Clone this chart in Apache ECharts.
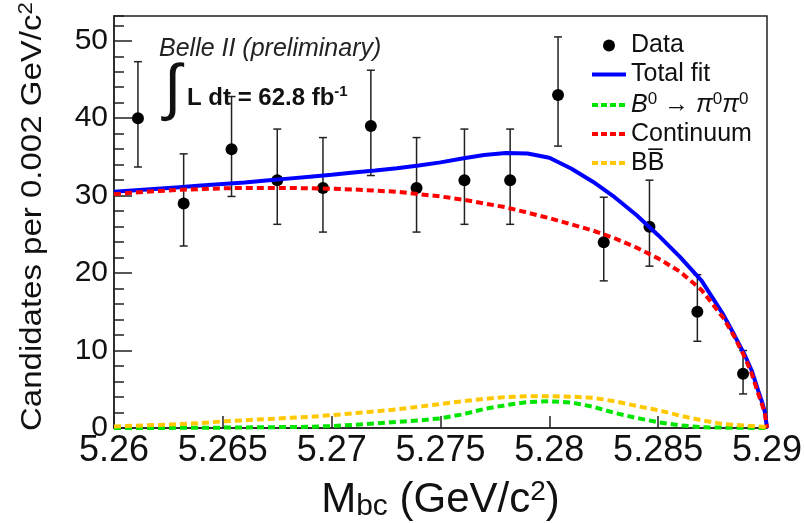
<!DOCTYPE html>
<html><head><meta charset="utf-8">
<script src="https://cdn.jsdelivr.net/npm/echarts@6/dist/echarts.min.js"></script>
<style>html,body{margin:0;padding:0;background:#fff}#c{width:804px;height:523px}</style>
</head><body><div id="c"></div>
<script>
// ---- Data ----
const binCenters = [5.2611, 5.2632, 5.2654, 5.2675, 5.2696, 5.2718, 5.2739, 5.2761, 5.2782, 5.2804, 5.2825, 5.2846, 5.2868, 5.2889];
const counts     = [40, 29, 36, 32, 31, 39, 31, 32, 32, 43, 24, 26, 15, 7];
const errLow     = [33.7, 23.5, 29.9, 26.3, 25.3, 32.6, 25.3, 26.3, 26.3, 36.4, 19.0, 20.9, 11.2, 4.4];
const errHigh    = [47.3, 35.4, 42.8, 38.6, 37.5, 46.2, 37.5, 38.6, 38.6, 50.5, 29.8, 32.0, 19.8, 10.0];

const curveX = [5.260, 5.261, 5.262, 5.263, 5.264, 5.265, 5.266, 5.267, 5.268, 5.269,
                5.270, 5.271, 5.272, 5.273, 5.274, 5.275, 5.276, 5.277, 5.278, 5.279,
                5.280, 5.281, 5.282, 5.283, 5.284, 5.285, 5.286, 5.287, 5.288,
                5.2885, 5.289, 5.2893, 5.2896, 5.2898, 5.2899, 5.290];
const totalFit = [30.5, 30.7, 30.9, 31.1, 31.3, 31.5, 31.7, 31.95, 32.2, 32.45,
                  32.7, 33.0, 33.25, 33.55, 33.9, 34.3, 34.8, 35.25, 35.5, 35.45,
                  34.9, 33.5, 31.8, 29.8, 27.5, 24.9, 22.1, 19.0, 14.6,
                  12.0, 9.3, 7.4, 4.8, 3.1, 2.1, 0];
const continuum = [30.2, 30.4, 30.6, 30.75, 30.85, 30.95, 31.0, 31.0, 31.0, 30.95,
                   30.9, 30.8, 30.65, 30.5, 30.2, 29.9, 29.5, 29.0, 28.5, 27.8,
                   27.1, 26.3, 25.5, 24.5, 23.3, 21.9, 20.2, 17.8, 14.2,
                   11.8, 9.0, 7.0, 4.4, 2.8, 1.9, 0];
const signal = [0, 0, 0, 0.02, 0.03, 0.05, 0.07, 0.1, 0.13, 0.15,
                0.25, 0.4, 0.6, 0.8, 0.97, 1.25, 1.75, 2.45, 2.95, 3.35,
                3.45, 3.3, 2.75, 1.95, 1.3, 0.75, 0.35, 0.1, 0.05,
                0.03, 0.02, 0.01, 0.01, 0, 0, 0];
const bbbar = [0.2, 0.3, 0.4, 0.5, 0.65, 0.85, 1.0, 1.15, 1.3, 1.45,
               1.65, 1.9, 2.15, 2.4, 2.75, 3.1, 3.45, 3.75, 4.0, 4.1,
               4.1, 4.05, 3.9, 3.45, 2.85, 2.3, 1.6, 1.0, 0.5,
               0.4, 0.3, 0.25, 0.2, 0.15, 0.1, 0];

const seriesNames = ['Data', 'Total fit', 'Signal', 'Continuum', 'BBbar'];

// ---- Chart ----
const F = '"Liberation Sans", Arial, sans-serif';
const pair = ys => curveX.map((x, i) => [x, ys[i]]);
const chart = echarts.init(document.getElementById('c'), null, {renderer: 'canvas'});

const legendLabel = {
  'Data': '{n|Data}',
  'Total fit': '{n|Total fit}',
  'Signal': '{i|B}{s|0}{n| \u2192 }{i|\u03c0}{s|0}{i|\u03c0}{s|0}',
  'Continuum': '{n|Continuum}',
  'BBbar': '{n|BB\u0305}'
};
const hideSym = {opacity: 0};
const legLine = (c, dashed) => ({color: c, width: 4, type: dashed ? [6, 3] : 'solid'});

const option = {
  animation: false,
  backgroundColor: '#fff',
  grid: {left: 114, right: 37, top: 16, bottom: 95, containLabel: false, outerBoundsMode: 'none',
    show: true, borderColor: '#222', borderWidth: 1.5},
  xAxis: {
    type: 'value', min: 5.26, max: 5.29, interval: 0.005,
    axisLine: {show: true, onZero: false, lineStyle: {color: '#222', width: 1.5}},
    axisTick: {show: true, inside: true, length: 12, lineStyle: {color: '#222', width: 1.5}},
    splitLine: {show: false},
    axisLabel: {fontFamily: F, fontSize: 36, color: '#111', margin: 5,
      formatter: v => String(+v.toFixed(3))},
    name: '{m|M}{b|bc}{m| (GeV/c}{s|2}{m|)}',
    nameLocation: 'middle', nameGap: 50,
    nameTextStyle: {
      rich: {
        m: {fontFamily: F, fontSize: 42, color: '#111', lineHeight: 44},
        b: {fontFamily: F, fontSize: 30, color: '#111', lineHeight: 40, verticalAlign: 'bottom'},
        s: {fontFamily: F, fontSize: 28, color: '#111', lineHeight: 22, verticalAlign: 'top'}
      }
    }
  },
  yAxis: [{
    type: 'value', min: 0, max: 53.2, interval: 10,
    axisLine: {show: true, lineStyle: {color: '#222', width: 1.5}},
    axisTick: {show: true, inside: true, length: 18, lineStyle: {color: '#222', width: 1.5}},
    splitLine: {show: false},
    axisLabel: {fontFamily: F, fontSize: 30, color: '#111', margin: 6, showMaxLabel: false}
  }, {
    type: 'value', min: 0, max: 53.2, interval: 2, position: 'left', offset: 0,
    axisLine: {show: false},
    axisTick: {show: true, inside: true, length: 10, lineStyle: {color: '#222', width: 1.5}},
    splitLine: {show: false},
    axisLabel: {show: false}
  }],
  legend: {
    orient: 'vertical', left: 585, top: 28, itemWidth: 34, itemHeight: 12, itemGap: 4,
    data: [
      {name: 'Data', icon: 'circle', itemStyle: {color: '#000'}},
      {name: 'Total fit', itemStyle: hideSym, lineStyle: legLine('#0000ff', false)},
      {name: 'Signal', itemStyle: hideSym, lineStyle: legLine('#00e600', true)},
      {name: 'Continuum', itemStyle: hideSym, lineStyle: legLine('#ff0000', true)},
      {name: 'BBbar', itemStyle: hideSym, lineStyle: legLine('#ffc800', true)}
    ],
    formatter: name => legendLabel[name],
    textStyle: {
      fontFamily: F, fontSize: 25, color: '#111',
      rich: {
        n: {fontFamily: F, fontSize: 25, color: '#111', lineHeight: 28},
        i: {fontFamily: F, fontSize: 25, fontStyle: 'italic', color: '#111', lineHeight: 28},
        s: {fontFamily: F, fontSize: 17, color: '#111', lineHeight: 14, verticalAlign: 'top'}
      }
    }
  },
  graphic: [
    {type: 'text', left: 159, top: 37, z: 10,
      style: {text: 'Belle II (preliminary)', fontFamily: F, fontSize: 25, fontStyle: 'italic', fill: '#222'}},
    {type: 'text', left: 164, top: 60, z: 10,
      style: {text: '\u222b', fontFamily: F, fontSize: 62, fill: '#111'}},
    {type: 'text', left: 187, top: 84, z: 10,
      style: {text: '{b|L dt = 62.8 fb}{s|-1}', fill: '#111',
        rich: {
          b: {fontFamily: F, fontSize: 24, fontWeight: 'bold', fill: '#111', lineHeight: 28},
          s: {fontFamily: F, fontSize: 15, fontWeight: 'bold', fill: '#111', lineHeight: 12, verticalAlign: 'top'}
        }}},
    {type: 'text', x: 33, y: 431, rotation: Math.PI / 2, scaleX: 1.1, z: 10,
      style: {text: '{n|Candidates per 0.002 GeV/c}{s|2}', align: 'left', verticalAlign: 'middle',
        rich: {
          n: {fontFamily: F, fontSize: 30, fill: '#111', lineHeight: 34},
          s: {fontFamily: F, fontSize: 20, fill: '#111', lineHeight: 18, verticalAlign: 'top'}
        }}}
  ],
  series: [
    {
      name: 'Data', type: 'custom', z: 1, color: '#000',
      data: binCenters.map((x, i) => [x, counts[i], errLow[i], errHigh[i]]),
      encode: {x: 0, y: 1},
      renderItem: (params, api) => {
        const x = api.value(0);
        const p = api.coord([x, api.value(1)]);
        const pl = api.coord([x, api.value(2)]);
        const ph = api.coord([x, api.value(3)]);
        const cap = 4;
        const st = {stroke: '#222', lineWidth: 1.5};
        return {type: 'group', children: [
          {type: 'line', shape: {x1: pl[0], y1: pl[1], x2: ph[0], y2: ph[1]}, style: st},
          {type: 'line', shape: {x1: pl[0] - cap, y1: pl[1], x2: pl[0] + cap, y2: pl[1]}, style: st},
          {type: 'line', shape: {x1: ph[0] - cap, y1: ph[1], x2: ph[0] + cap, y2: ph[1]}, style: st},
          {type: 'circle', shape: {cx: p[0], cy: p[1], r: 6}, style: {fill: '#000'}}
        ]};
      }
    },
    {name: 'Total fit', type: 'line', z: 3, symbol: 'none', showSymbol: false, data: pair(totalFit),
      color: '#0000ff', lineStyle: {color: '#0000ff', width: 4}},
    {name: 'Signal', type: 'line', z: 4, symbol: 'none', showSymbol: false, data: pair(signal),
      color: '#00e600', lineStyle: {color: '#00e600', width: 4, type: [7, 4]}},
    {name: 'Continuum', type: 'line', z: 4, symbol: 'none', showSymbol: false, data: pair(continuum),
      color: '#ff0000', lineStyle: {color: '#ff0000', width: 4, type: [7, 4]}},
    {name: 'BBbar', type: 'line', z: 4, symbol: 'none', showSymbol: false, data: pair(bbbar),
      color: '#ffc800', lineStyle: {color: '#ffc800', width: 4, type: [7, 4]}}
  ]
};
chart.setOption(option);
</script>
</body></html>
